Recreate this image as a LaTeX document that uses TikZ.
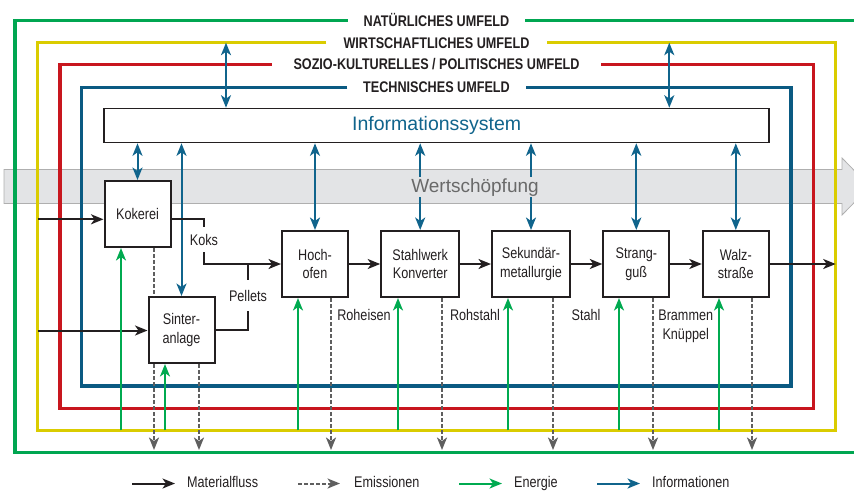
\documentclass[tikz,border=0pt]{standalone}
\usepackage{fontspec}
\setmainfont{Liberation Sans}
\newfontfamily\nar[FakeStretch=0.82]{Liberation Sans}
\usetikzlibrary{arrows.meta}
\definecolor{cgreen}{RGB}{0,166,81}
\definecolor{cyellow}{RGB}{218,204,0}
\definecolor{cred}{RGB}{200,22,30}
\definecolor{cblue}{RGB}{10,90,130}
\definecolor{cinfo}{RGB}{16,100,140}
\definecolor{cen}{RGB}{0,170,80}
\definecolor{cgray}{RGB}{95,95,95}
\definecolor{ctext}{RGB}{35,31,32}
\definecolor{cband}{RGB}{227,228,230}
\definecolor{cbandl}{RGB}{175,175,175}
\definecolor{cws}{RGB}{105,105,105}
\begin{document}
\begin{tikzpicture}[x=1pt,y=-1pt,
 >={Stealth[length=12.5pt,width=10pt,inset=3.5pt]},
 frame/.style={line width=3.3pt, line join=miter},
 flbl/.style={font=\nar\bfseries\fontsize{15.4}{18}\selectfont, text=ctext, anchor=base, inner ysep=0pt},
 proc/.style={draw=ctext, line width=2pt, fill=white, minimum width=66pt, minimum height=66pt, inner sep=0pt, align=center, text=ctext, font=\nar\fontsize{15.4}{18.5}\selectfont},
 lbl/.style={text=ctext, font=\nar\fontsize{15.4}{18.5}\selectfont, inner sep=0pt, align=center},
 mat/.style={draw=ctext, line width=2pt},
 emis/.style={draw=cgray, line width=2pt, dash pattern=on 3.5pt off 2.5pt},
 energ/.style={draw=cen, line width=2pt},
 inf/.style={draw=cinfo, line width=2pt},
]
\useasboundingbox (0,0) rectangle (854,491);
\clip (0,0) rectangle (854,491);

% value-creation band
\draw[cbandl, fill=cband, line width=0.8pt] (4,169.5) -- (842,169.5) -- (842,158) -- (870,186.5) -- (842,215) -- (842,203.5) -- (4,203.5) -- cycle;

% frame labels
\node[flbl, inner xsep=15.5pt] (lnat) at (436.5,26) {NATÜRLICHES UMFELD};
\node[flbl, inner xsep=17pt] (lwir) at (436.5,48) {WIRTSCHAFTLICHES UMFELD};
\node[flbl, inner xsep=21.5pt] (lsoz) at (436.5,69.6) {SOZIO-KULTURELLES / POLITISCHES UMFELD};
\node[flbl, inner xsep=15.5pt] (ltec) at (436.5,92.6) {TECHNISCHES UMFELD};

% frames
\draw[frame, cgreen] ([yshift=5.3pt]lnat.base west) -- (15,20.7) -- (15,452.3) -- (860,452.3);
\draw[frame, cgreen] ([yshift=5.3pt]lnat.base east) -- (860,20.7);
\draw[frame, cyellow] ([yshift=5.3pt]lwir.base west) -- (37.7,42.7) -- (37.7,430.3) -- (835.7,430.3) -- (835.7,42.7) -- ([yshift=5.3pt]lwir.base east);
\draw[frame, cred] ([yshift=5.3pt]lsoz.base west) -- (60,64.3) -- (60,408.3) -- (813.3,408.3) -- (813.3,64.3) -- ([yshift=5.3pt]lsoz.base east);
\draw[frame, cblue] ([yshift=5.3pt]ltec.base west) -- (81.7,87.3) -- (81.7,386) -- (791,386) -- (791,87.3) -- ([yshift=5.3pt]ltec.base east);

% information system
\node[draw=ctext, line width=1.6pt, fill=white, minimum width=665pt, minimum height=34pt, inner sep=0pt] (info) at (436.5,125.5) {};
\node[anchor=base, text=cinfo, font=\fontsize{19.5}{22}\selectfont, inner sep=0pt] (infot) at (436.7,130.7) {Informationssystem};

% process boxes
\node[proc] (kok) at (137.5,214) {Kokerei};
\node[proc] (sin) at (181.5,330) {Sinter-\\anlage};
\node[proc] (hoch) at (315,264) {Hoch-\\ofen};
\node[proc, minimum width=78pt] (stw) at (420.2,264) {Stahlwerk\\Konverter};
\node[proc, minimum width=78pt] (sek) at (531,264) {Sekundär-\\metallurgie};
\node[proc] (str) at (636.3,264) {Strang-\\guß};
\node[proc] (walz) at (735.8,264) {Walz-\\straße};

% information arrows
\coordinate (t1) at (226,42.7);
\coordinate (t2) at (669.3,42.7);
\draw[inf,<->] (t1) -- (t1 |- info.north);
\draw[inf,<->] (t2) -- (t2 |- info.north);
\foreach \n in {kok,sin,hoch,stw,sek,str,walz}
  \draw[inf,<->] (info.south -| \n) -- (\n.north);

% material flow
\node[lbl] (koks) at (204,239.5) {Koks};
\node[lbl, inner ysep=10pt] (pel) at (248,295.5) {Pellets};
\coordinate (kokin) at (37.7,219.3);
\coordinate (sinin) at (37.7,330.5);
\coordinate (kk1) at (204,219.3);
\coordinate (kk2) at (204,264);
\coordinate (pp1) at (248,330);
\coordinate (out) at (835.7,264);
\draw[mat,->] (kokin) -- (kokin -| kok.west);
\draw[mat,->] (sinin) -- (sinin -| sin.west);
\draw[mat] (kokin -| kok.east) -- (kk1) -- ([yshift=7pt]koks.north);
\draw[mat,->] ([yshift=-7pt]koks.south) -- (kk2) -- (hoch.west);
\draw[mat] (sin.east) -- (pp1) -- (pel.south);
\draw[mat] (pel.north) -- (pp1 |- kk2);
\draw[mat,->] (hoch.east) -- (stw.west);
\draw[mat,->] (stw.east) -- (sek.west);
\draw[mat,->] (sek.east) -- (str.west);
\draw[mat,->] (str.east) -- (walz.west);
\draw[mat,->] (walz.east) -- (out);

% intermediate product labels
\node[lbl, anchor=base] (rohe) at (364,320) {Roheisen};
\node[lbl, anchor=base] (rohs) at (475,320) {Rohstahl};
\node[lbl, anchor=base] (stahl) at (586,320) {Stahl};
\node[lbl, anchor=base] (bram) at (685.7,320) {Brammen};
\node[lbl, anchor=base] (knu) at (685.7,339) {Knüppel};

% energy
\coordinate (e1) at (121,430.3);
\coordinate (e2) at (165,430.3);
\coordinate (e3) at (298,430.3);
\coordinate (e4) at (398,430.3);
\coordinate (e5) at (508,430.3);
\coordinate (e6) at (619,430.3);
\coordinate (e7) at (719,430.3);
\draw[energ,->] (e1) -- (e1 |- kok.south);
\draw[energ,->] (e2) -- (e2 |- sin.south);
\draw[energ,->] (e3) -- (e3 |- hoch.south);
\draw[energ,->] (e4) -- (e4 |- stw.south);
\draw[energ,->] (e5) -- (e5 |- sek.south);
\draw[energ,->] (e6) -- (e6 |- str.south);
\draw[energ,->] (e7) -- (e7 |- walz.south);

% emissions
\coordinate (m1) at (154,450);
\coordinate (m2) at (199,450);
\coordinate (m3) at (331,450);
\coordinate (m4) at (442,450);
\coordinate (m5) at (553,450);
\coordinate (m6) at (653,450);
\coordinate (m7) at (752,450);
\draw[emis] (m1 |- kok.south) -- (m1 |- sin.north);
\draw[emis,->] (m1 |- sin.south) -- (m1);
\draw[emis,->] (m2 |- sin.south) -- (m2);
\draw[emis,->] (m3 |- hoch.south) -- (m3);
\draw[emis,->] (m4 |- stw.south) -- (m4);
\draw[emis,->] (m5 |- sek.south) -- (m5);
\draw[emis,->] (m6 |- str.south) -- (m6);
\draw[emis,->] (m7 |- walz.south) -- (m7);

% value creation label
\node[anchor=base, fill=cband, inner sep=1pt, text=cws, font=\fontsize{19}{22}\selectfont] (ws) at (475,192) {Wertschöpfung};

% legend
\node[lbl, anchor=base west] (lg1) at (187,487.3) {Materialfluss};
\node[lbl, anchor=base west] (lg2) at (354,487.3) {Emissionen};
\node[lbl, anchor=base west] (lg3) at (514,487.3) {Energie};
\node[lbl, anchor=base west] (lg4) at (652,487.3) {Informationen};
\coordinate (lg1a) at (132,483.5); \coordinate (lg1b) at (175,483.5);
\coordinate (lg2a) at (298,483.5); \coordinate (lg2b) at (340,483.5);
\coordinate (lg3a) at (459,483.5); \coordinate (lg3b) at (502,483.5);
\coordinate (lg4a) at (597,483.5); \coordinate (lg4b) at (640,483.5);
\draw[mat,->] (lg1a) -- (lg1b);
\draw[emis,->] (lg2a) -- (lg2b);
\draw[energ,->] (lg3a) -- (lg3b);
\draw[inf,->] (lg4a) -- (lg4b);
\end{tikzpicture}
\end{document}
